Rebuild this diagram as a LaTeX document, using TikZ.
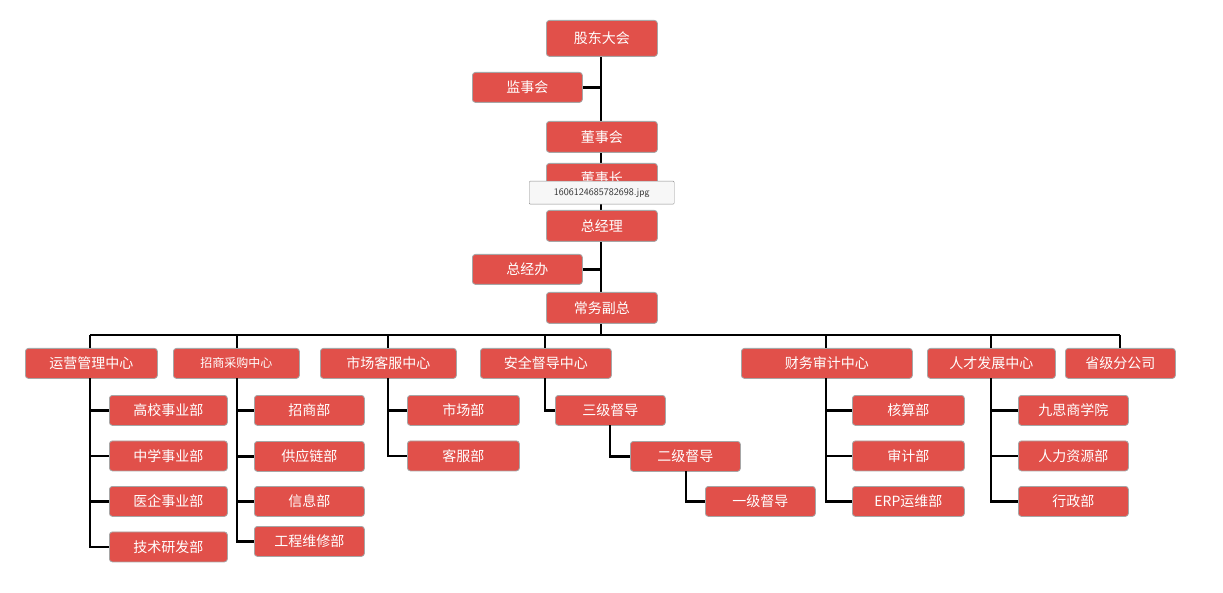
\documentclass[tikz,border=0pt]{standalone}
\usepackage{fontspec}
\setmainfont{Noto Sans CJK SC}
\begin{document}
\begin{tikzpicture}[x=1pt,y=-1pt,
  box/.style={draw=black!35,line width=0.8pt,fill=boxred,rounded corners=3pt,text=white,font=\fontsize{14}{16}\selectfont,inner sep=0pt,anchor=north west},
  ln/.style={line width=2.6pt,black}]
\definecolor{boxred}{HTML}{E1504A}
\useasboundingbox (0,0) rectangle (1223,593);
\newcommand\bx[6]{\node[box,minimum width=#4-#2,minimum height=#5-#3] (#1) at (#2,#3) {#6};}
% connectors first
\coordinate (t0) at (601,56);
\coordinate (t1) at (601,335);
\draw[ln] (t0) -- (t1);
\coordinate (bl) at (90,335);
\coordinate (br) at (1120,335);
\draw[ln] (bl) -- (br);
\bx{a}{546}{20}{657}{56}{股东大会}
\bx{b}{472}{72}{582}{102}{监事会}
\bx{c}{546}{121}{657}{152}{董事会}
\bx{d}{546}{163}{657}{192}{董事长}
\bx{e}{546}{210}{657}{241}{总经理}
\bx{f}{472}{254}{582}{284}{总经办}
\bx{g}{546}{292}{657}{323}{常务副总}
\draw[ln] (b.east) -- (b.east -| t0);
\draw[ln] (f.east) -- (f.east -| t0);
\node[draw=black!45,fill=black!3,rounded corners=1pt,anchor=north west,minimum width=145pt,minimum height=23pt,inner sep=0pt,font=\fontsize{10}{12}\selectfont\sffamily,text=black!80] (tip) at (529,181) {1606124685782698.jpg};
% second row
\bx{s1}{25}{348}{157}{378}{运营管理中心}
\bx{s2}{173}{348}{299}{378}{\fontsize{12}{14}\selectfont 招商采购中心}
\bx{s3}{320}{348}{456}{378}{市场客服中心}
\bx{s4}{480}{348}{611}{378}{安全督导中心}
\bx{s5}{741}{348}{912}{378}{财务审计中心}
\bx{s6}{927}{348}{1055}{378}{人才发展中心}
\bx{s7}{1065}{348}{1175}{378}{省级分公司}
\foreach \n/\x in {s1/90,s2/237,s3/388,s4/545,s5/826,s6/991,s7/1120}{
  \coordinate (\n top) at (\x,335);
  \draw[ln] (\n top) -- (\x,348);
}
% children
\foreach \n/\x/\l/\r/\names in {s1/90/109/227/{高校事业部,中学事业部,医企事业部,技术研发部},
  s3/388/407/519/{市场部,客服部},
  s5/826/852/964/{核算部,审计部,ERP运维部},
  s6/991/1018/1128/{九思商学院,人力资源部,行政部}}{
  \foreach \t [count=\i] in \names {
    \pgfmathsetmacro\yy{395+45.5*(\i-1)}
    \bx{\n c\i}{\l}{\yy}{\r}{\yy+30}{\t}
    \draw[ln] (\x,378) |- (\n c\i.west);
  }
}
\foreach \t/\y [count=\i] in {招商部/395,供应链部/441,信息部/486,工程维修部/526}{
  \bx{s2c\i}{254}{\y}{364}{\y+30}{\t}
  \draw[ln] (237,378) |- (s2c\i.west);
}
\bx{k3}{555}{395}{665}{425}{三级督导}
\bx{k2}{630}{441}{740}{471}{二级督导}
\bx{k1}{705}{486}{815}{516}{一级督导}
\draw[ln] (545,378) |- (k3.west);
\draw[ln] (610,425) |- (k2.west);
\draw[ln] (686,471) |- (k1.west);
\end{tikzpicture}
\end{document}
